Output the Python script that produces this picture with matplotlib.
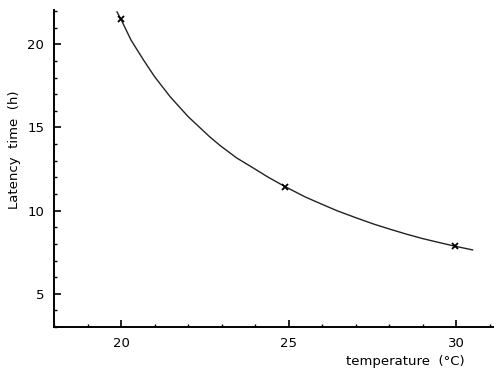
import matplotlib.pyplot as plt
from matplotlib.ticker import MultipleLocator

# measured points (temperature in C, latency in h)
temp = [20.0, 24.9, 29.97]
latency = [21.5, 11.44, 7.86]

# fitted curve
curve_t = [19.88, 20.0, 20.3, 20.67, 21.0, 21.47, 22.0, 22.64, 22.96, 23.45,
           23.95, 24.4, 24.9, 25.5, 26.0, 26.44, 27.0, 27.53, 28.0, 28.53,
           29.0, 29.5, 29.97, 30.49]
curve_l = [21.95, 21.5, 20.25, 19.06, 18.06, 16.84, 15.66, 14.45, 13.91, 13.17,
           12.56, 12.0, 11.44, 10.82, 10.38, 10.0, 9.58, 9.2, 8.9, 8.58,
           8.32, 8.08, 7.86, 7.64]

fig = plt.figure(figsize=(5, 3.79), dpi=100)
ax = fig.add_axes([0.108, 0.137, 0.878, 0.836])

ax.plot(curve_t, curve_l, color="#222222", lw=1.0)
ax.plot(temp, latency, "x", color="black", ms=4.5, mew=1.3)

ax.set_xlim(18, 31.1)
ax.set_ylim(3, 22.05)
ax.xaxis.set_major_locator(MultipleLocator(5))
ax.xaxis.set_minor_locator(MultipleLocator(1))
ax.yaxis.set_major_locator(MultipleLocator(5))
ax.yaxis.set_minor_locator(MultipleLocator(1))
ax.tick_params(which="major", direction="in", length=5, width=1.2, labelsize=9.5, pad=7)
ax.tick_params(which="minor", direction="in", length=2, width=1.0)

for s in ("top", "right"):
    ax.spines[s].set_visible(False)
for s in ("left", "bottom"):
    ax.spines[s].set_linewidth(1.4)

ax.set_ylabel("Latency  time  (h)", fontsize=9.5, labelpad=8)
ax.yaxis.set_label_coords(-0.075, 0.56)
ax.text(0.936, -0.11, "temperature  (°C)", ha="right", va="center", fontsize=9.5,
        transform=ax.transAxes)

fig.savefig("out.png", dpi=100)
